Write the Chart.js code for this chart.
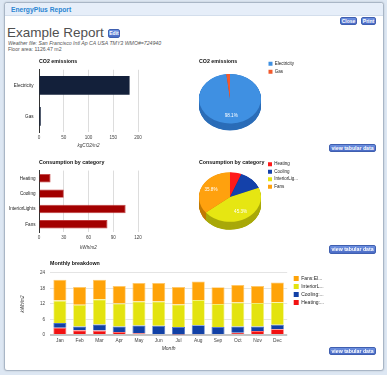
<!DOCTYPE html>
<html><head><meta charset="utf-8">
<script src="https://cdn.jsdelivr.net/npm/chart.js@4/dist/chart.umd.min.js"></script>
<style>
html,body{margin:0;padding:0;}
body{width:387px;height:375px;background:#dde7f3;position:relative;overflow:hidden;font-family:"Liberation Sans",Arial,sans-serif;}
#frame{position:absolute;left:4px;top:2px;width:378px;height:367px;background:#fff;border:1px solid #a9b6c6;border-radius:3px;box-shadow:0 0 2px rgba(0,0,0,0.18);}
#hdr{position:absolute;left:0;top:0;right:0;height:12px;background:#e6eef9;border-bottom:1px solid #d3deec;border-radius:3px 3px 0 0;}
#hdr span{position:absolute;left:6px;top:3px;font-size:6.7px;font-weight:bold;color:#2b85d2;line-height:7px;white-space:nowrap;}
.btn{position:absolute;background:linear-gradient(#6d90e0,#4b6cc6);border:1px solid #3f5fb0;border-radius:2px;color:#fff;font-weight:bold;text-align:center;box-sizing:border-box;white-space:nowrap;}
#title{position:absolute;left:7px;top:24.5px;font-size:13.5px;color:#505050;line-height:16px;white-space:nowrap;}
.info{position:absolute;left:8px;font-size:5.2px;color:#555;line-height:6px;white-space:nowrap;}
canvas{position:absolute;}
</style></head>
<body>
<div id="frame"><div id="hdr"><span>EnergyPlus Report</span></div></div>
<div class="btn" style="left:340px;top:17px;width:17px;height:8px;font-size:5px;line-height:6px;">Close</div>
<div class="btn" style="left:361px;top:17px;width:15px;height:8px;font-size:5px;line-height:6px;">Print</div>
<div id="title">Example Report</div>
<div class="btn" style="left:108px;top:29px;width:12px;height:9px;font-size:5px;line-height:7px;">Edit</div>
<div class="info" style="top:40px;font-style:italic;">Weather file: San Francisco Intl Ap CA USA TMY3 WMO#=724940</div>
<div class="info" style="top:45.5px;">Floor area: 1126.47 m2</div>

<canvas id="c1" width="190" height="94" style="left:0;top:56px"></canvas>
<canvas id="c2" width="114" height="78" style="left:190px;top:58px"></canvas>
<canvas id="c3" width="190" height="96" style="left:0;top:157px"></canvas>
<canvas id="c4" width="118" height="73" style="left:190px;top:159px"></canvas>
<canvas id="c5" width="334" height="94" style="left:0;top:258px"></canvas>

<div class="btn" style="left:329px;top:143.5px;width:47px;height:8.5px;font-size:5.2px;line-height:6.5px;">view tabular data</div>
<div class="btn" style="left:329px;top:245px;width:47px;height:8.5px;font-size:5.2px;line-height:6.5px;">view tabular data</div>
<div class="btn" style="left:329px;top:346.5px;width:47px;height:8.5px;font-size:5.2px;line-height:6.5px;">view tabular data</div>

<script>
// ---- data ----
const co2Sources = ['Electricity', 'Gas'];
const co2Values = [183, 3.5];
const co2Ticks = [0, 50, 100, 150, 200];

const endUses = ['Heating', 'Cooling', 'InteriorLights', 'Fans'];
const endUseValues = [14, 30, 105, 83];
const endUseTicks = [0, 30, 60, 90, 120];
const endUsePieLabels = ['Heating', 'Cooling', 'InteriorLig...', 'Fans'];

const months = ['Jan','Feb','Mar','Apr','May','Jun','Jul','Aug','Sep','Oct','Nov','Dec'];
const heatingMonthly = [2.8, 1.8, 1.7, 1.2, 0.7, 0.4, 0.2, 0.3, 0.4, 0.9, 1.5, 2.2];
const coolingMonthly = [1.8, 1.5, 2.4, 2.1, 3.0, 3.2, 2.9, 3.5, 2.7, 2.4, 1.8, 1.8];
const lightsMonthly  = [8.7, 8.4, 9.7, 8.9, 9.3, 9.4, 8.7, 9.7, 8.9, 9.3, 9.1, 8.7];
const fansMonthly    = [8.1, 6.9, 7.6, 6.8, 7.1, 7.1, 6.8, 7.2, 6.5, 6.7, 6.6, 7.6];
const monthlyLegend = ['Heating:...', 'Cooling:...', 'InteriorL...', 'Fans:El...'];
const monthlyTicks = [0, 6, 12, 18, 24];

// ---- setup ----
Chart.defaults.font.family = '"Liberation Sans", Arial, sans-serif';
Chart.defaults.color = '#333';
Chart.defaults.plugins.tooltip.enabled = false;

const tickStep = t => t[1] - t[0];

const pie3d = {
  id: 'pie3d',
  afterLayout(chart, args, o) {
    if (o.shiftLeft) { const a = chart.chartArea; a.left -= o.shiftLeft; a.width = a.right - a.left; }
  },
  beforeDatasetsDraw(chart, args, o) {
    const meta = chart.getDatasetMeta(0);
    const ctx = chart.ctx;
    const cx = meta.data[0].x, cy = meta.data[0].y;
    ctx.save();
    ctx.translate(cx, cy); ctx.scale(1, o.tilt); ctx.translate(-cx, -cy);
    const dep = o.depth / o.tilt;
    for (let d = dep; d > 0; d -= 0.5) {
      meta.data.forEach((arc, i) => {
        ctx.beginPath();
        ctx.moveTo(cx, cy + d);
        ctx.arc(cx, cy + d, arc.outerRadius, arc.startAngle, arc.endAngle);
        ctx.closePath();
        ctx.fillStyle = o.sideColors[i];
        ctx.fill();
      });
    }
  },
  afterDatasetsDraw(chart, args, o) {
    const ctx = chart.ctx;
    ctx.restore();
    const meta = chart.getDatasetMeta(0);
    const data = chart.data.datasets[0].data;
    const total = data.reduce((a, b) => a + b, 0);
    const cx = meta.data[0].x, cy = meta.data[0].y;
    ctx.save();
    ctx.fillStyle = '#fff';
    ctx.font = '4.6px "Liberation Sans", Arial, sans-serif';
    ctx.textAlign = 'center'; ctx.textBaseline = 'middle';
    meta.data.forEach((arc, i) => {
      const p = data[i] / total;
      if (p < o.minLabel) return;
      const mid = (arc.startAngle + arc.endAngle) / 2;
      const r = arc.outerRadius * 0.68;
      ctx.fillText((p * 100).toFixed(1) + '%', cx + Math.cos(mid) * r, cy + Math.sin(mid) * r * o.tilt);
    });
    ctx.restore();
  }
};

const titleOpts = (text, pb) => ({display: true, text, align: 'start', fullSize: false, color: '#111',
  font: {size: 5.3, weight: 'bold'}, padding: {top: 0, bottom: pb}});

// ---- chart 1: CO2 bar ----
new Chart(document.getElementById('c1'), {
  type: 'bar',
  data: {labels: co2Sources, datasets: [{data: co2Values, backgroundColor: '#13203a', borderWidth: 0,
    barPercentage: 0.6, categoryPercentage: 1}]},
  options: {
    indexAxis: 'y', responsive: false, animation: false,
    layout: {padding: {left: 0, right: 52, top: 2, bottom: 0}},
    plugins: {legend: {display: false}, title: titleOpts('CO2 emissions', 5.4)},
    scales: {
      x: {min: co2Ticks[0], max: co2Ticks[co2Ticks.length - 1],
        ticks: {stepSize: tickStep(co2Ticks), font: {size: 4.6}, padding: 3, color: '#444'},
        grid: {color: '#dddddd', drawTicks: false}, border: {display: false},
        title: {display: true, text: 'kgCO2/m2', color: '#333', font: {size: 4.6, style: 'italic'}, padding: {top: 0, bottom: 2}},
        afterFit: s => { s.height = 18; }},
      y: {ticks: {font: {size: 4.6}, padding: 5.5, color: '#222'}, grid: {display: false, drawTicks: false},
        border: {display: true, color: '#333', width: 1}, afterFit: s => { s.width = 39; }}
    }
  }
});

// ---- chart 2: CO2 pie ----
new Chart(document.getElementById('c2'), {
  type: 'pie',
  data: {labels: co2Sources, datasets: [{data: co2Values, backgroundColor: ['#3f90e2', '#f2592c'],
    borderWidth: 0, clip: false, radius: 31}]},
  options: {
    responsive: false, animation: false,
    layout: {padding: {left: 9, right: 0, top: 0, bottom: 6}},
    plugins: {
      title: {display: true, text: 'CO2 emissions', align: 'start', color: '#111', font: {size: 5.3, weight: 'bold'}, padding: {top: 0, bottom: 3}},
      legend: {position: 'right', align: 'start', labels: {boxWidth: 4, boxHeight: 4, padding: 3.5, color: '#222', font: {size: 4.5}}},
      pie3d: {tilt: 0.8, depth: 7, sideColors: ['#2b6db8', '#b8401c'], minLabel: 0.2, shiftLeft: 4}
    }
  },
  plugins: [pie3d]
});

// ---- chart 3: consumption bar ----
new Chart(document.getElementById('c3'), {
  type: 'bar',
  data: {labels: endUses, datasets: [{data: endUseValues, backgroundColor: '#a30000', borderColor: '#c23a3a', borderWidth: 0.8,
    barPercentage: 0.55, categoryPercentage: 1}]},
  options: {
    indexAxis: 'y', responsive: false, animation: false,
    layout: {padding: {left: 0, right: 52, top: 2, bottom: 0}},
    plugins: {legend: {display: false}, title: titleOpts('Consumption by category', 5.2)},
    scales: {
      x: {min: endUseTicks[0], max: endUseTicks[endUseTicks.length - 1],
        ticks: {stepSize: tickStep(endUseTicks), font: {size: 4.6}, padding: 3, color: '#444'},
        grid: {color: '#dddddd', drawTicks: false}, border: {display: false},
        title: {display: true, text: 'kWh/m2', color: '#333', font: {size: 4.6, style: 'italic'}, padding: {top: 0, bottom: 3}},
        afterFit: s => { s.height = 21; }},
      y: {ticks: {font: {size: 4.6}, padding: 3.5, color: '#222'}, grid: {display: false, drawTicks: false},
        border: {display: true, color: '#333', width: 1}, afterFit: s => { s.width = 39; }}
    }
  }
});

// ---- chart 4: consumption pie ----
new Chart(document.getElementById('c4'), {
  type: 'pie',
  data: {labels: endUsePieLabels, datasets: [{data: endUseValues,
    backgroundColor: ['#ff1a1a', '#1441aa', '#e6e612', '#ffa10e'], borderWidth: 0, clip: false, radius: 31}]},
  options: {
    responsive: false, animation: false,
    layout: {padding: {left: 9, right: 0, top: 0, bottom: 6}},
    plugins: {
      title: {display: true, text: 'Consumption by category', align: 'start', color: '#111', font: {size: 5.3, weight: 'bold'}, padding: {top: 0, bottom: 2.7}},
      legend: {position: 'right', align: 'start', labels: {boxWidth: 4, boxHeight: 4, padding: 3, color: '#222', font: {size: 4.5}}},
      pie3d: {tilt: 0.8, depth: 8, sideColors: ['#b31010', '#0c2c7a', '#a9a90a', '#c27a06'], minLabel: 0.2, shiftLeft: 4}
    }
  },
  plugins: [pie3d]
});

// ---- chart 5: monthly stacked ----
const stackSets = [
  {label: monthlyLegend[0], data: heatingMonthly, backgroundColor: '#f21111', borderColor: '#ff6a6a'},
  {label: monthlyLegend[1], data: coolingMonthly, backgroundColor: '#1140a6', borderColor: '#4d72c4'},
  {label: monthlyLegend[2], data: lightsMonthly, backgroundColor: '#e3e30f', borderColor: '#f3f37c'},
  {label: monthlyLegend[3], data: fansMonthly, backgroundColor: '#ffa308', borderColor: '#ffc767'}
].map(d => Object.assign(d, {borderWidth: 0.8, barPercentage: 0.66, categoryPercentage: 1}));

new Chart(document.getElementById('c5'), {
  type: 'bar',
  data: {labels: months, datasets: stackSets},
  options: {
    responsive: false, animation: false,
    layout: {padding: {left: 18, right: 0, top: 2, bottom: 0}},
    plugins: {
      title: titleOpts('Monthly breakdown', 6.6),
      legend: {position: 'right', align: 'start', fullSize: false, reverse: true,
        labels: {boxWidth: 5, boxHeight: 5, padding: 3, color: '#222', font: {size: 5},
          generateLabels: ch => Chart.defaults.plugins.legend.labels.generateLabels(ch).map(l => Object.assign(l, {lineWidth: 0}))}}
    },
    scales: {
      x: {stacked: true, grid: {display: false, drawTicks: false}, border: {display: false},
        ticks: {font: {size: 4.8}, padding: 3, color: '#444'},
        title: {display: true, text: 'Month', color: '#333', font: {size: 5, style: 'italic'}, padding: {top: 0, bottom: 0}},
        afterFit: s => { s.height = 17; }},
      y: {stacked: true, min: monthlyTicks[0], max: monthlyTicks[monthlyTicks.length - 1],
        ticks: {stepSize: tickStep(monthlyTicks), font: {size: 4.6}, padding: 5, color: '#444'},
        grid: {drawTicks: false, color: c => c.tick && c.tick.value === 0 ? '#c4c4c4' : '#e4e4e4',
          lineWidth: c => c.tick && c.tick.value === 0 ? 2 : 1},
        border: {display: false},
        title: {display: true, text: 'kWh/m2', color: '#333', font: {size: 4.6, style: 'italic'}, padding: {top: 2, bottom: 0}},
        afterFit: s => { s.width = 32; }},
      gap: {position: 'right', display: true, grid: {display: false, drawTicks: false}, ticks: {display: false},
        border: {display: false}, afterFit: s => { s.width = 3.5; }}
    }
  }
});
</script>
</body></html>
